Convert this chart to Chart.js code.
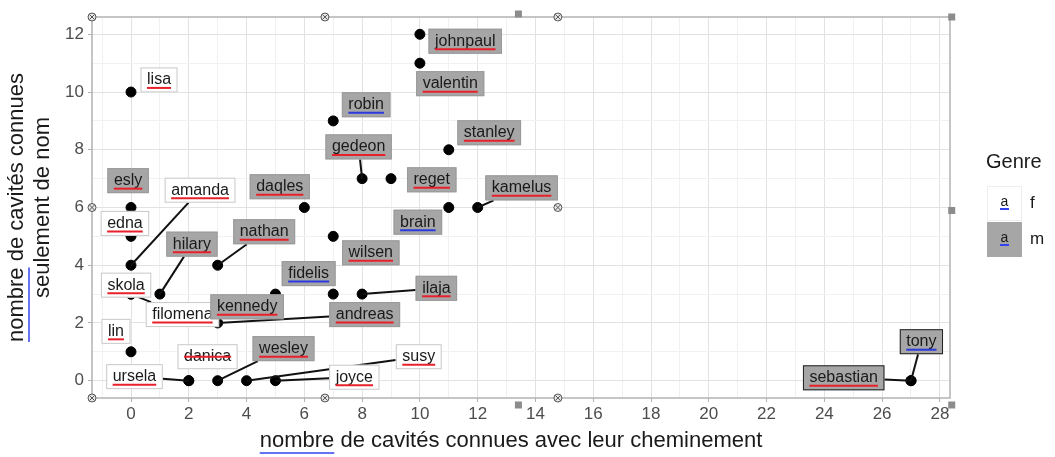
<!DOCTYPE html>
<html>
<head>
<meta charset="utf-8">
<script src="https://cdn.jsdelivr.net/npm/chart.js@4/dist/chart.umd.min.js"></script>
<style>
  html, body { margin: 0; padding: 0; background: #fff; }
  #wrap { width: 1055px; height: 457px; }
</style>
</head>
<body>
<div id="wrap"><canvas id="cavites" width="1055" height="457"></canvas></div>
<script>
// noms des personnes
var noms = ['lisa', 'johnpaul', 'valentin', 'robin', 'gedeon', 'stanley', 'reget', 'kamelus', 'esly', 'amanda',
            'daqles', 'edna', 'hilary', 'nathan', 'skola', 'filomena', 'kennedy', 'lin', 'danica', 'wesley',
            'ursela', 'fidelis', 'brain', 'wilsen', 'ilaja', 'andreas', 'susy', 'joyce', 'sebastian', 'tony'];
var genres = ['f', 'm', 'm', 'm', 'm', 'm', 'm', 'm', 'm', 'f',
              'm', 'f', 'm', 'm', 'f', 'f', 'm', 'f', 'f', 'm',
              'f', 'm', 'm', 'm', 'm', 'm', 'f', 'f', 'm', 'm'];
// cavités connues avec leur cheminement
var avecChemin = [0, 10, 10, 7, 8, 11, 9, 12, 0, 0,
                  6, 0, 1, 3, 0, 0, 5, 0, 2, 3,
                  2, 7, 11, 7, 8, 3, 4, 5, 27, 27];
// cavités connues seulement de nom
var seulNom = [10, 12, 11, 9, 7, 8, 7, 6, 6, 4,
               6, 5, 3, 4, 3, 3, 3, 1, 0, 0,
               0, 3, 6, 5, 3, 2, 0, 0, 0, 0];
// position des étiquettes (repel), en unités des axes
var etiqX = [0.97, 11.57, 11.05, 8.14, 7.88, 12.40, 10.41, 13.52, -0.10, 2.39,
             5.15, -0.21, 2.11, 4.61, -0.17, 1.78, 4.02, -0.52, 2.65, 5.28,
             0.12, 6.15, 9.93, 8.30, 10.57, 8.09, 9.96, 7.73, 24.67, 27.36];
var etiqY = [10.42, 11.76, 10.29, 9.56, 8.10, 8.59, 6.96, 6.68, 6.93, 6.60,
             6.72, 5.45, 4.73, 5.16, 3.31, 2.29, 2.56, 1.71, 0.83, 1.11,
             0.14, 3.71, 5.49, 4.43, 3.20, 2.29, 0.83, 0.12, 0.10, 1.35];
// soulignement du correcteur (bleu pour certains)
var soulBleu = ['robin', 'brain', 'fidelis', 'tony'];

var xGraduations = [0, 2, 4, 6, 8, 10, 12, 14, 16, 18, 20, 22, 24, 26, 28];
var yGraduations = [0, 2, 4, 6, 8, 10, 12];
var genresLegende = ['f', 'm'];

var GRIS = '#a6a6a6';

var points = avecChemin.map(function (v, i) { return {x: v, y: seulNom[i]}; });

function boiteEtiquette(ctx, i, sx, sy) {
  ctx.font = '16px "Liberation Sans", Arial, sans-serif';
  var w = ctx.measureText(noms[i]).width + 13;
  var h = 25;
  var cx = sx.getPixelForValue(etiqX[i]);
  var cy = sy.getPixelForValue(etiqY[i]);
  return {l: cx - w / 2, t: cy - h / 2, w: w, h: h, cx: cx, cy: cy};
}

var etiquettes = {
  id: 'etiquettes',
  afterDatasetsDraw: function (chart) {
    var ctx = chart.ctx, sx = chart.scales.x, sy = chart.scales.y;
    // segments
    ctx.save();
    noms.forEach(function (n, i) {
      var b = boiteEtiquette(ctx, i, sx, sy);
      var px = sx.getPixelForValue(avecChemin[i]);
      var py = sy.getPixelForValue(seulNom[i]);
      var dx = b.cx - px, dy = b.cy - py;
      // entrée dans la boîte
      var t = 0;
      if (dx !== 0) {
        var ex = dx > 0 ? (b.l - px) / dx : (b.l + b.w - px) / dx;
        t = Math.max(t, ex);
      }
      if (dy !== 0) {
        var ey = dy > 0 ? (b.t - py) / dy : (b.t + b.h - py) / dy;
        t = Math.max(t, ey);
      }
      t = Math.min(Math.max(t, 0), 1);
      var len = t * Math.sqrt(dx * dx + dy * dy);
      if (len > 16.5) {
        ctx.strokeStyle = '#111';
        ctx.lineWidth = 2;
        ctx.beginPath();
        ctx.moveTo(px, py);
        ctx.lineTo(px + dx * t, py + dy * t);
        ctx.stroke();
      }
    });
    // boîtes
    noms.forEach(function (n, i) {
      var b = boiteEtiquette(ctx, i, sx, sy);
      var femme = genres[i] === 'f';
      ctx.fillStyle = femme ? '#ffffff' : GRIS;
      ctx.fillRect(b.l, b.t, b.w, b.h);
      ctx.lineWidth = 1;
      ctx.strokeStyle = femme ? '#c8c8c8' : (n === 'sebastian' || n === 'tony' ? '#222' : '#9a9a9a');
      ctx.strokeRect(b.l + 0.5, b.t + 0.5, b.w - 1, b.h - 1);
      ctx.fillStyle = '#1a1a1a';
      ctx.textAlign = 'center';
      ctx.textBaseline = 'middle';
      ctx.fillText(n, b.cx, b.cy);
      var tw = ctx.measureText(n).width;
      ctx.strokeStyle = soulBleu.indexOf(n) >= 0 ? '#2a3adf' : '#e8202a';
      ctx.lineWidth = 2;
      ctx.beginPath();
      var ly = n === 'danica' ? b.cy : b.cy + 8;
      ctx.moveTo(b.cx - tw / 2, ly);
      ctx.lineTo(b.cx + tw / 2, ly);
      ctx.stroke();
    });
    ctx.restore();
  },
  afterDraw: function (chart) {
    var ctx = chart.ctx, a = chart.chartArea;
    ctx.save();
    // cadre du panneau
    ctx.strokeStyle = '#b3b3b3';
    ctx.lineWidth = 1.5;
    ctx.strokeRect(a.left, a.top, a.right - a.left, a.bottom - a.top);

    // titres des axes
    ctx.fillStyle = '#1a1a1a';
    ctx.font = '22px "Liberation Sans", Arial, sans-serif';
    ctx.textAlign = 'center';
    ctx.textBaseline = 'middle';
    var tx = (a.left + a.right) / 2 - 10;
    ctx.fillText('nombre de cavités connues avec leur cheminement', tx, 441);
    var w1 = ctx.measureText('nombre').width;
    var w0 = ctx.measureText('nombre de cavités connues avec leur cheminement').width;
    ctx.strokeStyle = '#3344ee';
    ctx.lineWidth = 1.5;
    ctx.beginPath();
    ctx.moveTo(tx - w0 / 2, 453);
    ctx.lineTo(tx - w0 / 2 + w1, 453);
    ctx.stroke();

    var ty = (a.top + a.bottom) / 2;
    ctx.save();
    ctx.translate(17, ty);
    ctx.rotate(-Math.PI / 2);
    ctx.fillText('nombre de cavités connues', 0, 0);
    var wl = ctx.measureText('nombre de cavités connues').width;
    ctx.beginPath();
    ctx.moveTo(-wl / 2, 12);
    ctx.lineTo(-wl / 2 + w1, 12);
    ctx.stroke();
    ctx.fillText('seulement de nom', 0, 26);
    ctx.restore();

    // légende
    ctx.textAlign = 'left';
    ctx.font = '20px "Liberation Sans", Arial, sans-serif';
    ctx.fillText('Genre', 986, 162);
    genresLegende.forEach(function (g, k) {
      var y0 = 186 + k * 36;
      ctx.fillStyle = g === 'f' ? '#ffffff' : GRIS;
      ctx.fillRect(987, y0, 35, 35);
      if (g === 'f') {
        ctx.strokeStyle = '#eeeeee';
        ctx.lineWidth = 1;
        ctx.strokeRect(987.5, y0 + 0.5, 34, 34);
      }
      ctx.fillStyle = '#1a1a1a';
      ctx.font = '14px "Liberation Sans", Arial, sans-serif';
      ctx.textAlign = 'center';
      ctx.fillText('a', 1004.5, y0 + 16);
      ctx.strokeStyle = '#3344ee';
      ctx.lineWidth = 2;
      ctx.beginPath();
      ctx.moveTo(1000, y0 + 23);
      ctx.lineTo(1009, y0 + 23);
      ctx.stroke();
      ctx.textAlign = 'left';
      ctx.font = '17px "Liberation Sans", Arial, sans-serif';
      ctx.fillText(g, 1030, y0 + 17);
    });

    // poignées de sélection (capture Word)
    var W = a.right - a.left, H = a.bottom - a.top;
    [[0, 0], [0.2715, 0], [0.543, 0], [0, 0.5], [0.543, 0.5], [0, 1], [0.2715, 1], [0.543, 1]].forEach(function (p) {
      var hx = a.left + W * p[0], hy = a.top + H * p[1];
      ctx.fillStyle = '#e8e8e8';
      ctx.strokeStyle = '#555';
      ctx.lineWidth = 1;
      ctx.beginPath();
      ctx.arc(hx, hy, 4, 0, Math.PI * 2);
      ctx.fill();
      ctx.stroke();
      ctx.beginPath();
      ctx.moveTo(hx - 2.5, hy - 2.5); ctx.lineTo(hx + 2.5, hy + 2.5);
      ctx.moveTo(hx + 2.5, hy - 2.5); ctx.lineTo(hx - 2.5, hy + 2.5);
      ctx.stroke();
    });
    ctx.fillStyle = '#8c8c8c';
    [[0.497, -3], [1.002, 0], [1.002, H / 2 + 3], [1.002, H + 7], [0.497, H + 7]].forEach(function (p) {
      var hx = a.left + W * p[0], hy = a.top + p[1];
      ctx.fillRect(hx - 3.5, hy - 3.5, 7, 7);
    });
    ctx.restore();
  }
};

function entiers(scale) {
  var t = [];
  for (var v = Math.ceil(scale.min); v <= Math.floor(scale.max); v++) t.push({value: v});
  scale.ticks = t;
}

var ctx = document.getElementById('cavites').getContext('2d');
new Chart(ctx, {
  type: 'scatter',
  data: {
    datasets: [{
      data: points,
      backgroundColor: '#000',
      borderColor: '#000',
      pointRadius: 5,
      pointHoverRadius: 5
    }]
  },
  options: {
    responsive: false,
    animation: false,
    layout: { padding: { left: 0, top: 17, right: 105, bottom: 0 } },
    plugins: { legend: { display: false }, tooltip: { enabled: false } },
    scales: {
      x: {
        type: 'linear',
        min: -1.35,
        max: 28.35,
        afterBuildTicks: entiers,
        afterFit: function (s) { s.height = 59; },
        border: { display: false },
        grid: {
          color: function (c) { return xGraduations.indexOf(c.tick.value) >= 0 ? '#e2e2e2' : '#f1f1f1'; },
          lineWidth: 1,
          tickLength: 4,
          tickColor: function (c) { return xGraduations.indexOf(c.tick.value) >= 0 ? '#b3b3b3' : 'rgba(0,0,0,0)'; }
        },
        ticks: {
          autoSkip: false,
          maxRotation: 0,
          padding: 2,
          color: '#4d4d4d',
          font: { family: '"Liberation Sans", Arial, sans-serif', size: 17 },
          callback: function (v) { return xGraduations.indexOf(v) >= 0 ? String(v) : ''; }
        }
      },
      y: {
        type: 'linear',
        min: -0.6,
        max: 12.6,
        afterBuildTicks: entiers,
        afterFit: function (s) { s.width = 92; },
        border: { display: false },
        grid: {
          color: function (c) { return yGraduations.indexOf(c.tick.value) >= 0 ? '#e2e2e2' : '#f1f1f1'; },
          lineWidth: 1,
          tickLength: 4,
          tickColor: function (c) { return yGraduations.indexOf(c.tick.value) >= 0 ? '#b3b3b3' : 'rgba(0,0,0,0)'; }
        },
        ticks: {
          autoSkip: false,
          padding: 4,
          color: '#4d4d4d',
          font: { family: '"Liberation Sans", Arial, sans-serif', size: 17 },
          callback: function (v) { return yGraduations.indexOf(v) >= 0 ? String(v) : ''; }
        }
      }
    }
  },
  plugins: [etiquettes]
});
</script>
</body>
</html>
